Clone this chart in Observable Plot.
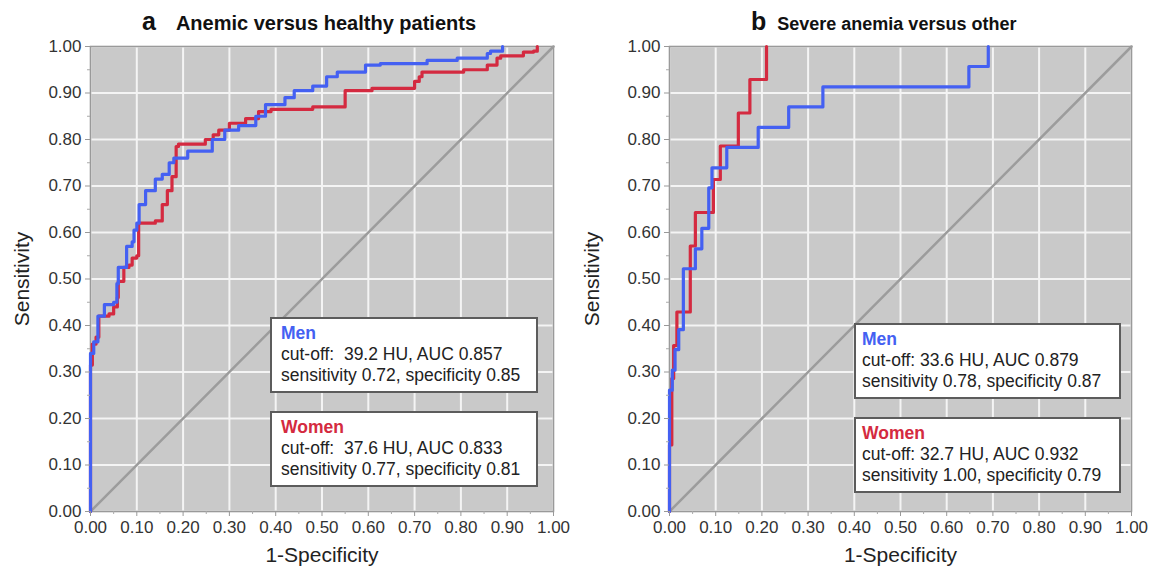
<!DOCTYPE html>
<html>
<head>
<meta charset="utf-8">
<script src="https://cdn.jsdelivr.net/npm/d3@7"></script>
<script src="https://cdn.jsdelivr.net/npm/@observablehq/plot@0.6"></script>
<style>
  body { margin: 0; background: #fff; font-family: "Liberation Sans", Arial, sans-serif; }
  #wrap { position: relative; width: 1149px; height: 575px; overflow: hidden; }
  .panel { position: absolute; top: 0; }
  .title { position: absolute; font-weight: bold; color: #111; white-space: nowrap; line-height: 30px; }
  .title .letter { font-size: 25px; }
  .box { position: absolute; background: #fff; border: 2px solid #5c5c5c; box-sizing: border-box;
         padding: 4px 0 0 9px; font-size: 17.5px; line-height: 21px; color: #222; white-space: pre; }
  .box .hd { font-weight: bold; }
</style>
</head>
<body>
<div id="wrap"></div>
<script>
// ---- data ----
const ticks = [0, 0.1, 0.2, 0.3, 0.4, 0.5, 0.6, 0.7, 0.8, 0.9, 1.0];
const minorTicks = [0.05, 0.15, 0.25, 0.35, 0.45, 0.55, 0.65, 0.75, 0.85, 0.95];
const diagonal = [[0, 0], [1, 1]];

// Panel a: Anemic versus healthy patients  [1-specificity, sensitivity]
const menA = [[0,0],[0,0.34],[0.007,0.365],[0.016,0.42],[0.03,0.43],[0.03,0.445],[0.05,0.45],[0.057,0.49],
  [0.06,0.525],[0.078,0.53],[0.078,0.57],[0.09,0.58],[0.094,0.605],[0.1,0.62],[0.105,0.66],[0.119,0.69],
  [0.14,0.715],[0.155,0.725],[0.17,0.75],[0.18,0.76],[0.21,0.775],[0.263,0.8],[0.29,0.82],[0.32,0.83],
  [0.357,0.85],[0.378,0.875],[0.42,0.89],[0.44,0.905],[0.48,0.915],[0.51,0.935],[0.533,0.945],[0.594,0.96],
  [0.626,0.963],[0.727,0.97],[0.792,0.975],[0.857,0.985],[0.864,0.99],[0.89,1.0]];
const womenA = [[0,0],[0,0.315],[0.004,0.36],[0.012,0.375],[0.018,0.42],[0.04,0.425],[0.05,0.44],[0.058,0.46],
  [0.06,0.495],[0.072,0.525],[0.083,0.53],[0.09,0.545],[0.1,0.55],[0.104,0.62],[0.14,0.625],[0.155,0.66],
  [0.166,0.69],[0.176,0.72],[0.185,0.785],[0.19,0.79],[0.248,0.8],[0.265,0.81],[0.277,0.82],[0.3,0.835],
  [0.335,0.845],[0.363,0.86],[0.39,0.865],[0.48,0.87],[0.55,0.905],[0.608,0.91],[0.7,0.925],[0.71,0.935],
  [0.716,0.945],[0.806,0.95],[0.857,0.96],[0.878,0.975],[0.886,0.98],[0.935,0.988],[0.957,0.99],[0.965,1.0]];

// Panel b: Severe anemia versus other
const menB = [[0,0],[0,0.261],[0.006,0.304],[0.012,0.348],[0.02,0.391],[0.03,0.522],[0.056,0.565],[0.07,0.609],
  [0.085,0.696],[0.092,0.739],[0.124,0.783],[0.192,0.826],[0.258,0.87],[0.332,0.913],[0.648,0.957],[0.69,1.0]];
const womenB = [[0,0],[0,0.143],[0.005,0.286],[0.009,0.357],[0.016,0.429],[0.045,0.571],[0.056,0.643],
  [0.095,0.714],[0.11,0.786],[0.149,0.857],[0.174,0.929],[0.21,1.0]];

const panels = [
  { letter: "a", title: "Anemic versus healthy patients", men: menA, women: womenA,
    menStats: ["cut-off:  39.2 HU, AUC 0.857", "sensitivity 0.72, specificity 0.85"],
    womenStats: ["cut-off:  37.6 HU, AUC 0.833", "sensitivity 0.77, specificity 0.81"] },
  { letter: "b", title: "Severe anemia versus other", men: menB, women: womenB,
    menStats: ["cut-off: 33.6 HU, AUC 0.879", "sensitivity 0.78, specificity 0.87"],
    womenStats: ["cut-off: 32.7 HU, AUC 0.932", "sensitivity 1.00, specificity 0.79"] }
];

const MEN_COLOR = "#4460f2";
const WOMEN_COLOR = "#d42a40";

// ---- layout ----
const layout = [
  { left: 0, width: 575, ml: 90, mr: 22, ylabX: 22, titleX: 142, titleGap: 20, titleY: 6, titleSize: 20, padL: 9,
    boxes: [{ x: 270, y: 317, w: 268, h: 76 }, { x: 270, y: 411, w: 268, h: 76 }] },
  { left: 575, width: 574, ml: 94, mr: 18, ylabX: 17, titleX: 751, titleGap: 11, titleY: 6, titleSize: 18, padL: 6,
    boxes: [{ x: 854, y: 323, w: 267, h: 76 }, { x: 854, y: 417, w: 267, h: 76 }] }
];

const wrap = document.getElementById("wrap");
const fmt = d => d.toFixed(2);

panels.forEach((p, i) => {
  const L = layout[i];
  const chart = Plot.plot({
    width: L.width, height: 575,
    marginLeft: L.ml, marginRight: L.mr, marginTop: 46, marginBottom: 64,
    style: { fontFamily: "'Liberation Sans', Arial, sans-serif", fontSize: "17px", color: "#333", background: "transparent", overflow: "visible" },
    x: { domain: [0, 1] },
    y: { domain: [0, 1] },
    marks: [
      Plot.frame({ fill: "#c9c9c9" }),
      Plot.gridX(ticks, { stroke: "#f4f4f4", strokeOpacity: 1, strokeWidth: 2 }),
      Plot.gridY(ticks, { stroke: "#f4f4f4", strokeOpacity: 1, strokeWidth: 2 }),
      Plot.frame({ stroke: "#9a9a9a", strokeWidth: 1.5 }),
      Plot.line(diagonal, { x: d => d[0], y: d => d[1], stroke: "#9c9c9c", strokeWidth: 2.5 }),
      Plot.line(p.women, { x: d => d[0], y: d => d[1], curve: "step-after", stroke: WOMEN_COLOR, strokeWidth: 3.2 }),
      Plot.line(p.men, { x: d => d[0], y: d => d[1], curve: "step-after", stroke: MEN_COLOR, strokeWidth: 3.2 }),
      Plot.axisX(ticks, { tickFormat: fmt, label: null, tickSize: 5, stroke: "#999", fontSize: 17 }),
      Plot.axisY(ticks, { tickFormat: fmt, label: null, tickSize: 5, stroke: "#999", fontSize: 17 }),
      Plot.axisX(minorTicks, { tickFormat: () => "", label: null, tickSize: 3, stroke: "#aaa" }),
      Plot.axisY(minorTicks, { tickFormat: () => "", label: null, tickSize: 3, stroke: "#aaa" }),
      Plot.text(["Sensitivity"], { frameAnchor: "left", rotate: -90, dx: -L.ml + L.ylabX, textAnchor: "middle", lineAnchor: "middle", fontSize: 21, fill: "#222" }),
      Plot.text(["1-Specificity"], { frameAnchor: "bottom", dy: 44, textAnchor: "middle", lineAnchor: "middle", fontSize: 21, fill: "#222" })
    ]
  });
  const div = document.createElement("div");
  div.className = "panel";
  div.style.left = L.left + "px";
  div.appendChild(chart);
  wrap.appendChild(div);

  const t = document.createElement("div");
  t.className = "title";
  t.style.left = L.titleX + "px";
  t.style.top = L.titleY + "px";
  t.innerHTML = `<span class="letter" style="margin-right:${L.titleGap}px">${p.letter}</span><span style="font-size:${L.titleSize}px">${p.title}</span>`;
  wrap.appendChild(t);

  [["Men", MEN_COLOR, p.menStats], ["Women", WOMEN_COLOR, p.womenStats]].forEach(([name, col, stats], j) => {
    const b = L.boxes[j];
    const box = document.createElement("div");
    box.className = "box";
    Object.assign(box.style, { left: b.x + "px", top: b.y + "px", width: b.w + "px", height: b.h + "px", paddingLeft: L.padL + "px" });
    box.innerHTML = `<div class="hd" style="color:${col}">${name}</div><div>${stats[0]}</div><div>${stats[1]}</div>`;
    wrap.appendChild(box);
  });
});
</script>
</body>
</html>
